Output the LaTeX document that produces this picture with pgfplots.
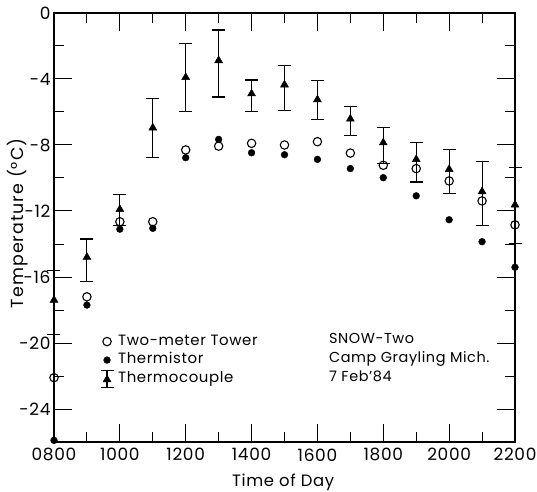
\documentclass[border=0pt]{standalone}
\usepackage{pgfplots}
\pgfplotsset{compat=1.18}
\usepackage{pgfplotstable}
\usepackage{fontspec}
\setmainfont{Poppins}[LetterSpace=4]

\pgfplotsset{
    legmark/.style={legend image code/.code={\draw[##1] plot coordinates {(0bp,0bp)};}},
    legtc/.style={legend image code/.code={
        \draw[black, line width=1.1bp] (0bp,-9bp)--(0bp,8bp) (-6.5bp,-9bp)--(6.5bp,-9bp) (-6.5bp,8bp)--(6.5bp,8bp);
        \draw[black] plot[only marks, mark=triangle*, mark size=4.6bp] coordinates {(0bp,-1bp)};}},
}

% time (h), thermocouple mean, error up, error down
\pgfplotstableread{
t   y      ep    em
8   -17.4  1.8   2.1
9   -14.8  1.1   1.45
10  -11.9  0.9   1.0
11  -6.96  1.76  1.79
12  -3.9   2.07  2.06
13  -2.88  1.85  2.21
14  -4.89  0.83  1.07
15  -4.35  1.15  1.55
16  -5.25  1.15  1.23
17  -6.42  0.73  1.0
18  -7.86  0.9   1.25
19  -8.87  1.04  1.37
20  -9.47  1.18  1.47
21  -10.82 1.81  2.08
22  -11.63 2.29  2.33
}\thermocouple

\pgfplotstableread{
t   y
8   -22.1
9   -17.2
10  -12.65
11  -12.65
12  -8.3
13  -8.07
14  -7.9
15  -8.0
16  -7.8
17  -8.49
18  -9.23
19  -9.43
20  -10.18
21  -11.39
22  -12.84
}\tower

\pgfplotstableread{
t   y
8   -25.9
9   -17.7
10  -13.1
11  -13.05
12  -8.77
13  -7.66
14  -8.47
15  -8.59
16  -8.87
17  -9.43
18  -9.98
19  -11.08
20  -12.53
21  -13.86
22  -15.41
}\thermistor

\begin{document}
\begin{tikzpicture}
\begin{axis}[
    scale only axis,
    width=461bp, height=429bp,
    xmin=8, xmax=22, ymin=-26, ymax=0,
    xtick={8,10,...,22},
    xticklabels={0800,1000,1200,1400,1600,1800,2000,2200},
    minor xtick={9,11,...,21},
    ytick={-24,-20,-16,-12,-8,-4,0},
    yticklabels={-24,-20,-16,-12,-8,-4,0},
    minor ytick={-22,-18,-14,-10,-6,-2},
    major tick length=18bp, minor tick length=10bp,
    tick align=inside,
    every tick/.style={black, line width=1bp},
    axis line style={line width=1.2bp},
    tick label style={font=\fontsize{17}{17}\selectfont},
    xticklabel style={yshift=-3bp},
    label style={font=\fontsize{16.5}{16.5}\selectfont},
    xlabel={Time of Day},
    ylabel={Temperature (°C)},
    xlabel style={at={(axis description cs:0.497,-0.093)}, anchor=center},
    ylabel style={at={(axis description cs:-0.078,0.51)}, anchor=center,
        font=\fontsize{17.5}{17.5}\addfontfeatures{LetterSpace=6}},
    clip=false,
    legend style={at={(axis cs:9.3,-19.25)}, anchor=north west, draw=none, fill=none,
        font=\fontsize{15}{15}\selectfont, row sep=1bp,
        nodes={text height=10.5bp, text depth=3bp, inner sep=2bp},
        /tikz/every odd column/.style={column sep=2bp}},
    legend cell align=left,
]
\addplot[only marks, mark=o, mark size=4.2bp, mark options={line width=1.1bp, fill=white}, legmark]
    table[x=t, y=y] {\tower};
\addlegendentry{Two-meter Tower}
\addplot[only marks, mark=*, mark size=3.4bp, black, legmark]
    table[x=t, y=y] {\thermistor};
\addlegendentry{Thermistor}
\addplot[only marks, mark=triangle*, mark size=4.6bp, black, legtc,
    error bars/.cd, y dir=both, y explicit,
    error bar style={line width=1.1bp},
    error mark options={rotate=90, mark size=6.5bp, line width=1.1bp}]
    table[x=t, y=y, y error plus=ep, y error minus=em] {\thermocouple};
\addlegendentry{Thermocouple}
\node[anchor=north west, align=left, font=\fontsize{14.5}{19}\selectfont, inner sep=0pt]
    at (axis cs:16.35,-19.4) {SNOW-Two\\Camp Grayling Mich.\\7 Feb'84};
\coordinate (ll) at (rel axis cs:0,0);
\end{axis}
\pgfresetboundingbox
\path (ll) ++(-54bp,-50bp) rectangle ++(537bp,492bp);
\end{tikzpicture}
\end{document}
